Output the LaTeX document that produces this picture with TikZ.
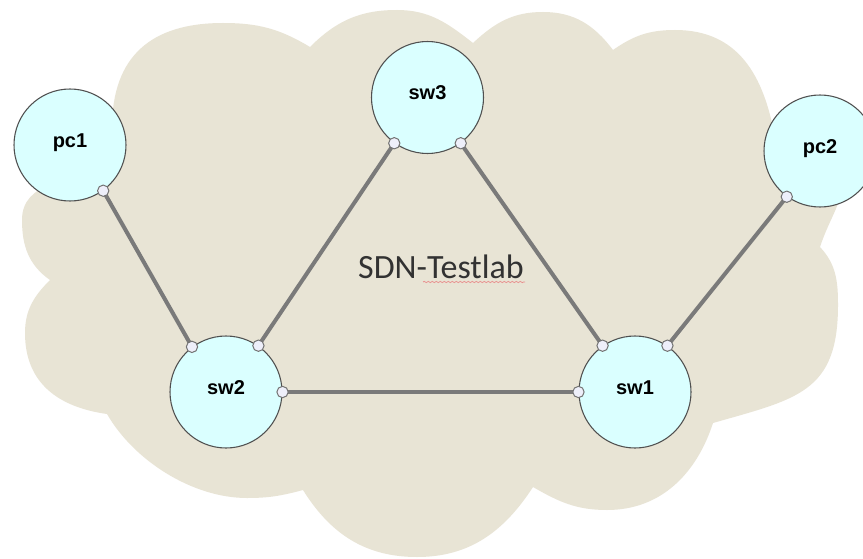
\documentclass[tikz,border=0pt]{standalone}
\usepackage{fontspec}
\newfontfamily\cloudfont{Carlito}
\newfontfamily\devfont{Liberation Sans}
\usetikzlibrary{decorations.pathmorphing}

\pgfdeclarelayer{cloudlayer}
\pgfdeclarelayer{linklayer}
\pgfsetlayers{cloudlayer,linklayer,main}

\definecolor{cloudfill}{RGB}{232,228,213}
\definecolor{devfill}{RGB}{218,255,255}
\definecolor{devline}{RGB}{80,80,80}
\definecolor{portfill}{RGB}{238,239,250}
\definecolor{portline}{RGB}{115,115,115}
\definecolor{linkgray}{RGB}{122,122,122}
\definecolor{labgray}{RGB}{50,50,50}
\definecolor{spellred}{RGB}{232,140,140}

\begin{document}
\begin{tikzpicture}[x=0.75pt,y=0.75pt,
  device/.style={circle, draw=devline, line width=0.8pt, fill=devfill,
                 minimum size=84pt, inner sep=0pt},
  devlabel/.style={font=\devfont\bfseries\fontsize{15}{18}\selectfont,
                   anchor=base, inner sep=0pt},
  port/.style={circle, draw=portline, line width=0.75pt, fill=portfill,
               minimum size=8.5pt, inner sep=0pt},
  link/.style={draw=linkgray, line width=3pt},
  cloudshape/.style={fill=cloudfill, draw=none},
  spell/.style={draw=spellred, line width=0.55pt, decorate,
                decoration={snake, amplitude=0.45pt, segment length=3pt}},
]
\useasboundingbox (0,0) rectangle (863,558);
\clip (0,0) rectangle (863,558);

% the cloud behind the network
\begin{pgfonlayer}{cloudlayer}
  \fill[white] (0,0) rectangle (863,558);
  \path[cloudshape] (50,278)
    to[out=225,in=90] (25,225)
    to[out=270,in=172,looseness=1.1] (107,144)
    to[out=300,in=180,looseness=0.85] (247,60)
    to[out=0,in=195] (303,68)
    to[out=302,in=180] (417,1)
    to[out=0,in=237] (533,71)
    to[out=330,in=180] (607,48)
    to[out=0,in=252] (713,135)
    to[out=16,in=270,looseness=1.3] (838,253)
    to[out=90,in=313] (820,311)
    to[out=72,in=270] (845,390)
    to[out=90,in=20] (775,420)
    to[out=100,in=0,looseness=1.1] (675,528)
    to[out=180,in=35] (613,508)
    to[out=127,in=0] (543,546)
    to[out=180,in=43] (473,515)
    to[out=142,in=0] (397,548)
    to[out=180,in=45] (310,511)
    to[out=149,in=0] (223,535)
    to[out=180,in=90,looseness=1.2] (112,430)
    to[out=270,in=60] (105,395)
    to[out=210,in=90] (22,338)
    to[out=270,in=145] (50,278)
    -- cycle;
\end{pgfonlayer}

% cloud caption
\node[font=\cloudfont\fontsize{25.5}{30}\selectfont, text=labgray,
      anchor=base, inner sep=0pt] (lab) at (441,280) {SDN-Testlab};
\draw[spell] (423,276) -- (525,276);

% hosts and switches
\node[device] (pc1) at (70,413) {};
\node[device] (sw3) at (427.5,460.5) {};
\node[device] (pc2) at (820,407) {};
\node[device] (sw2) at (226,166) {};
\node[device] (sw1) at (635,166) {};

\node[devlabel] (pc1-t) at ([yshift=-1.5pt]pc1.center) {pc1};
\node[devlabel] (sw3-t) at ([yshift=-1.5pt]sw3.center) {sw3};
\node[devlabel] (pc2-t) at ([yshift=-1.5pt]pc2.center) {pc2};
\node[devlabel] (sw2-t) at ([yshift=-1.5pt]sw2.center) {sw2};
\node[devlabel] (sw1-t) at ([yshift=-1.5pt]sw1.center) {sw1};

% interface ports
\node[port] (pc1p) at (pc1.-54) {};
\node[port] (sw2a) at (sw2.127) {};
\node[port] (sw2b) at (sw2.55) {};
\node[port] (sw2c) at (sw2.0) {};
\node[port] (sw3a) at (sw3.-126) {};
\node[port] (sw3b) at (sw3.-54) {};
\node[port] (sw1a) at (sw1.125) {};
\node[port] (sw1b) at (sw1.55) {};
\node[port] (sw1c) at (sw1.180) {};
\node[port] (pc2p) at (pc2.-126) {};

% links
\begin{pgfonlayer}{linklayer}
  \draw[link] (pc1p.center) -- (sw2a.center);
  \draw[link] (sw2b.center) -- (sw3a.center);
  \draw[link] (sw3b.center) -- (sw1a.center);
  \draw[link] (sw1b.center) -- (pc2p.center);
  \draw[link, line width=3.4pt] (sw2c.center) -- (sw1c.center);
\end{pgfonlayer}
\end{tikzpicture}
\end{document}
